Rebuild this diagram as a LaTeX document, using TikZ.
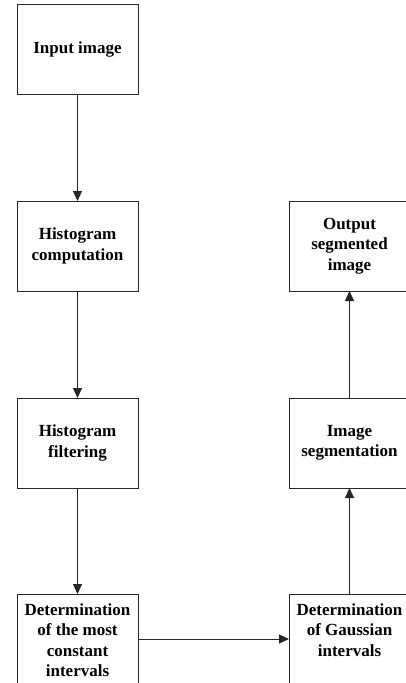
\documentclass[tikz,border=0pt]{standalone}
\usepackage{fontspec}
\setmainfont{Liberation Serif}
\usetikzlibrary{arrows.meta}
\begin{document}
\begin{tikzpicture}[x=1pt,y=1pt,
  box/.style={draw=black!85,line width=1pt,minimum width=121pt,minimum height=90pt,inner sep=0pt,outer sep=0pt},
  lbl/.style={align=center,font=\fontsize{17}{20.5}\selectfont\bfseries,inner sep=0pt},
  conn/.style={draw=black!85,line width=1pt,-{Triangle[length=10pt,width=9pt]}}]
\useasboundingbox (0,0) rectangle (406,-683);
\begin{scope}
\clip (0,0) rectangle (406,-683);
\node[box] (in) at (77.5,-49.5) {};
\node[lbl] (in-t) at (77.5,-49.5) {Input image};
\node[box] (hc) at (77.5,-246) {};
\node[lbl] (hc-t) at (77.5,-246) {Histogram\\computation};
\node[box] (hf) at (77.5,-443) {};
\node[lbl] (hf-t) at (77.5,-443) {Histogram\\filtering};
\node[box] (dm) at (77.5,-639) {};
\node[lbl] (dm-t) at (77.5,-640) {Determination\\of the most\\constant\\intervals};
\node[box] (os) at (349.5,-246) {};
\node[lbl] (os-t) at (349.5,-246) {Output\\segmented\\image};
\node[box] (is) at (349.5,-443) {};
\node[lbl] (is-t) at (349.5,-443) {Image\\segmentation};
\node[box] (dg) at (349.5,-639) {};
\node[lbl] (dg-t) at (349.5,-630) {Determination\\of Gaussian\\intervals};
\end{scope}
\draw[conn] (in) -- (hc);
\draw[conn] (hc) -- (hf);
\draw[conn] (hf) -- (dm);
\draw[conn] (dm) -- (dg);
\draw[conn] (dg) -- (is);
\draw[conn] (is) -- (os);
\end{tikzpicture}
\end{document}
